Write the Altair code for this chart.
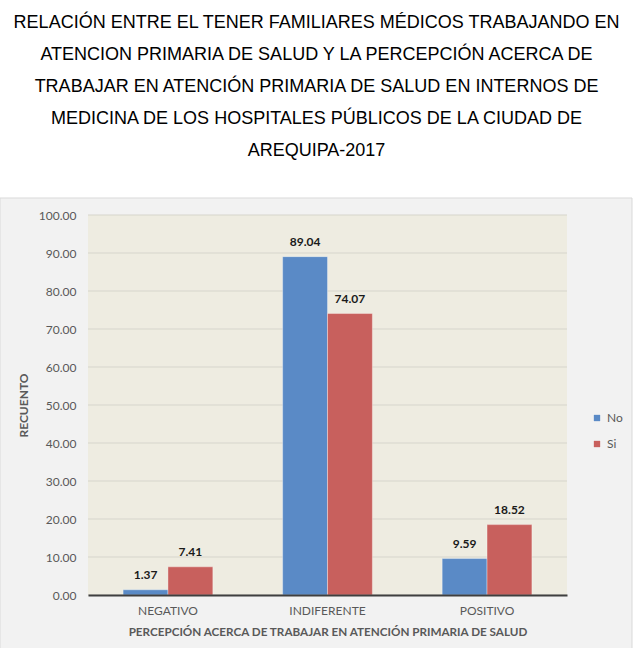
import altair as alt
import pandas as pd

title_lines = [
    "RELACIÓN ENTRE EL TENER FAMILIARES MÉDICOS TRABAJANDO EN",
    "ATENCION PRIMARIA DE SALUD Y LA PERCEPCIÓN ACERCA DE",
    "TRABAJAR EN ATENCIÓN PRIMARIA DE SALUD EN INTERNOS DE",
    "MEDICINA DE LOS HOSPITALES PÚBLICOS DE LA CIUDAD DE",
    "AREQUIPA-2017",
]
categories = ["NEGATIVO", "INDIFERENTE", "POSITIVO"]
groups = ["No", "Si"]
values_no = [1.37, 89.04, 9.59]
values_si = [7.41, 74.07, 18.52]
y_ticks = [0, 10, 20, 30, 40, 50, 60, 70, 80, 90, 100]
colors = ["#5A8AC6", "#C8605D"]

rows = []
for c, a, b in zip(categories, values_no, values_si):
    rows.append({"cat": c, "grp": "No", "val": a})
    rows.append({"cat": c, "grp": "Si", "val": b})
df = pd.DataFrame(rows)
grid_df = pd.DataFrame({"tick": y_ticks})
one = pd.DataFrame({"a": [0]})

W, H = 479, 380
FONT = "Lato"
GRAY = "#595959"

box = alt.Chart(one).mark_rect(fill="#F2F2F2", stroke="#D9D9D9", strokeWidth=1).encode(
    x=alt.value(-88), x2=alt.value(W + 65), y=alt.value(-17), y2=alt.value(H + 60)
)
plotbg = alt.Chart(one).mark_rect(fill="#EEECE1").encode(
    x=alt.value(0), x2=alt.value(W), y=alt.value(0), y2=alt.value(H)
)

yscale = alt.Scale(domain=[0, 100])
yaxis = alt.Axis(title="RECUENTO", format=".2f", values=y_ticks, tickCount=11, grid=False,
                 domain=False, ticks=False, tickSize=0, labelPadding=12,
                 labelOverlap=False,
                 labelFont=FONT, labelFontSize=12, labelColor=GRAY,
                 titleFont=FONT, titleFontSize=12, titleFontWeight="bold",
                 titleColor=GRAY, titlePadding=8, zindex=1)

grid = alt.Chart(grid_df).mark_rule(color="#D6D5CC", strokeWidth=1).encode(
    y=alt.Y("tick:Q", scale=yscale, axis=yaxis),
    x=alt.value(0), x2=alt.value(W),
)

xaxis = alt.Axis(title="PERCEPCIÓN ACERCA DE TRABAJAR EN ATENCIÓN PRIMARIA DE SALUD",
                 labelAngle=0, ticks=False, tickSize=0, labelPadding=10,
                 domain=True, domainColor="#3F3F3F", domainWidth=1.8,
                 labelFont=FONT, labelFontSize=12, labelColor=GRAY,
                 titleFont=FONT, titleFontSize=11.7, titleFontWeight="bold",
                 titleColor=GRAY, titlePadding=10, zindex=1)
xscale = alt.Scale(paddingInner=0.4375, paddingOuter=0.22)
xenc = alt.X("cat:N", sort=categories, scale=xscale, axis=xaxis)
xoff = alt.XOffset("grp:N", sort=groups)

bars = alt.Chart(df).mark_bar(stroke="#FFFFFF", strokeOpacity=0.35, strokeWidth=1).encode(
    x=xenc,
    xOffset=xoff,
    y=alt.Y("val:Q", scale=yscale, axis=yaxis),
    color=alt.Color("grp:N", sort=groups,
                    scale=alt.Scale(domain=groups, range=colors),
                    legend=alt.Legend(title=None, orient="none", legendX=503, legendY=197,
                                      symbolType="square", symbolSize=40, symbolStrokeWidth=0,
                                      labelFont=FONT, labelFontSize=12, labelColor=GRAY,
                                      rowPadding=14, padding=0, labelOffset=4, zindex=1)),
)

labels = alt.Chart(df).mark_text(font=FONT, fontSize=12, fontWeight="bold", color="#1a1a1a",
                                  dy=-15, baseline="middle").encode(
    x=xenc,
    xOffset=xoff,
    y=alt.Y("val:Q", scale=yscale, axis=yaxis),
    text=alt.Text("val:Q", format=".2f"),
)

chart = alt.layer(box, plotbg, grid, bars, labels).properties(
    width=W, height=H,
    autosize=alt.AutoSizeParams(type="none"),
    padding={"left": 88, "top": 215, "right": 67, "bottom": 53},
    background="#FFFFFF",
    title=alt.TitleParams(text=title_lines, font="Liberation Sans", fontSize=18,
                          fontWeight="normal", color="#000000", lineHeight=32,
                          anchor="middle", dx=-11, offset=38),
).configure_view(stroke=None)

chart.save("out.html", embed_options={"renderer": "svg", "actions": False})
